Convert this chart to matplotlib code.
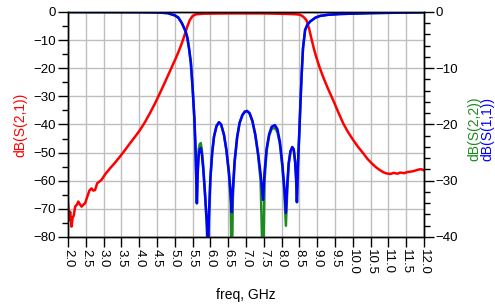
import numpy as np
import matplotlib
matplotlib.use('Agg')
import matplotlib.pyplot as plt
from matplotlib.ticker import MultipleLocator

plt.rcParams['font.family'] = ['Liberation Sans', 'DejaVu Sans']

# S21, left axis
freq_21 = [2.0, 2.03, 2.06, 2.1, 2.13, 2.16, 2.2, 2.25, 2.29, 2.34, 2.38, 2.43, 2.48,
           2.54, 2.6, 2.66, 2.71, 2.76, 2.82, 2.94, 3.05, 3.18, 3.32, 3.46, 3.6, 3.74,
           3.88, 4.02, 4.16, 4.3, 4.44, 4.58, 4.7, 4.8, 4.9, 5.0, 5.1, 5.2, 5.28, 5.35,
           5.42, 5.5, 5.6, 5.8, 6.5, 7.5, 8.2, 8.4, 8.52, 8.6, 8.65, 8.7, 8.77, 8.84,
           8.91, 8.98, 9.07, 9.17, 9.3, 9.45, 9.59, 9.73, 9.87, 10.01, 10.15, 10.29,
           10.41, 10.53, 10.65, 10.76, 10.86, 10.95, 11.05, 11.15, 11.25, 11.33, 11.45,
           11.53, 11.6, 11.7, 11.8, 11.89, 11.95, 12.0]
s21 = [-68, -74, -71, -76.3, -73, -72.5, -69.2, -68.5, -67.4, -68.5, -69.2, -68.5, -68,
       -65.7, -63.5, -62.7, -63.5, -63.3, -60.9, -59.7, -57.6, -55.6, -53.6, -51.4, -49.1,
       -46.7, -44.4, -42, -39.2, -36, -32.6, -28.9, -25.6, -22.8, -20.0, -17.2, -14.3, -11,
       -8.0, -5.2, -2.9, -1.4, -0.8, -0.6, -0.5, -0.5, -0.7, -0.8, -1.0, -1.6, -2.2, -3.0,
       -5.8, -9.6, -13.2, -16.3, -19.8, -23.2, -27.2, -31.4, -35.6, -39.6, -42.8, -45.5, -48,
       -50.2, -52.2, -53.8, -55.2, -56.2, -57, -57.4, -57.6, -57.2, -57.5, -57.1, -57.3,
       -56.9, -56.8, -56.6, -56.2, -55.9, -56.0, -56.3]

# S11 / S22, right axis
freq_s = [2.0, 3.0, 4.0, 4.5, 4.8, 5.0, 5.1, 5.2, 5.3, 5.35, 5.4, 5.45, 5.5, 5.55, 5.58,
          5.6, 5.62, 5.64, 5.67, 5.7, 5.73, 5.76, 5.8, 5.85, 5.9, 5.93, 5.96, 6.0, 6.05,
          6.1, 6.17, 6.24, 6.3, 6.38, 6.45, 6.52, 6.57, 6.6, 6.63, 6.68, 6.75, 6.82, 6.9,
          6.97, 7.03, 7.1, 7.18, 7.26, 7.34, 7.41, 7.48, 7.52, 7.58, 7.65, 7.72, 7.81, 7.88,
          7.95, 8.02, 8.08, 8.12, 8.16, 8.2, 8.25, 8.3, 8.34, 8.38, 8.41, 8.43, 8.46, 8.5,
          8.53, 8.56, 8.6, 8.66, 8.72, 8.8, 8.95, 9.08, 9.3, 9.64, 10.5, 12.0]
s11 = [0, -0.01, -0.03, -0.08, -0.2, -0.6, -1.0, -2.0, -3.4, -4.5, -6.5, -9.0, -13.5, -19,
       -24, -29, -34, -29, -25.5, -24.4, -24.2, -25.3, -28, -32.5, -37.5, -42, -36, -29.5,
       -25, -22.2, -20.3, -19.6, -20, -21.8, -24.6, -28.5, -32.3, -35.6, -31.5, -26.5, -22.3,
       -19.7, -18.3, -17.7, -17.6, -18, -19.4, -21.8, -25.2, -28.8, -33.4, -28.5, -24.3,
       -21.7, -20.4, -20.1, -20.8, -23, -27, -31.5, -35.7, -30.5, -26.8, -24.7, -24, -24.4,
       -26.6, -30, -33.8, -27, -21, -16, -11.5, -6.5, -3.2, -2.3, -1.7, -1.0, -0.7, -0.5,
       -0.36, -0.2, -0.05]
s22 = [0, -0.01, -0.03, -0.08, -0.2, -0.6, -1.0, -2.0, -3.4, -4.5, -6.5, -9.0, -13.5, -19,
       -24, -29, -34, -28.5, -24.5, -23.5, -23.3, -24.5, -27.5, -32.5, -38, -48, -36.5, -29.5,
       -25, -22.2, -20.3, -19.6, -20, -21.8, -24.6, -28.8, -34, -48, -33, -26.8, -22.3,
       -19.7, -18.3, -17.7, -17.6, -18, -19.4, -21.8, -25.5, -30, -48, -30, -24.6,
       -22, -20.8, -20.6, -21.3, -23.4, -27.5, -32.5, -38, -31.5, -27, -24.8, -24.1, -24.5,
       -26.7, -30, -33.8, -27, -21, -16, -11.5, -6.5, -3.2, -2.3, -1.7, -1.0, -0.7, -0.5,
       -0.36, -0.2, -0.05]

xticks = np.arange(2.0, 12.01, 0.5)

fig, ax = plt.subplots(figsize=(4.95, 3.06), dpi=100)
fig.subplots_adjust(left=0.1374, right=0.8566, top=0.9608, bottom=0.2255)
ax2 = ax.twinx()

ax.plot(freq_21, s21, color='#ff0000', lw=1.8)
ax2.plot(freq_s, s22, color='#1f8a1f', lw=1.8)
ax2.plot(freq_s, s11, color='#0000ff', lw=1.8)

ax.set_xlim(2, 12)
ax.set_ylim(-80, 0)
ax2.set_ylim(-40, 0)

ax.set_xticks(xticks)
ax.set_xticklabels(['%.1f' % t for t in xticks], rotation=-90)
ax.yaxis.set_major_locator(MultipleLocator(10))
ax.yaxis.set_minor_locator(MultipleLocator(5))
ax2.yaxis.set_major_locator(MultipleLocator(10))
ax2.yaxis.set_minor_locator(MultipleLocator(2))

for a in (ax, ax2):
    a.tick_params(which='major', direction='out', length=7, width=1, labelsize=9.5,
                  colors='black', pad=1.5)
    a.tick_params(which='minor', direction='out', length=4, width=1)
    for s in a.spines.values():
        s.set_color('black')
        s.set_linewidth(1)

ax.grid(True, which='major', color='#bebebe', lw=1)
ax.set_axisbelow(True)

ax.set_ylabel('dB(S(2,1))', color='#ff0000', fontsize=10)
ax.yaxis.set_label_coords(-0.113, 0.5)
ax.set_xlabel('freq, GHz', fontsize=10)
ax.xaxis.set_label_coords(0.5, -0.225)

fig.text(0.984, 0.578, 'dB(S(1,1))', color='#0000ff', fontsize=10, rotation=90,
         ha='center', va='center')
fig.text(0.958, 0.578, 'dB(S(2,2))', color='#1f8a1f', fontsize=10, rotation=90,
         ha='center', va='center')

fig.savefig('out.png', dpi=100)
